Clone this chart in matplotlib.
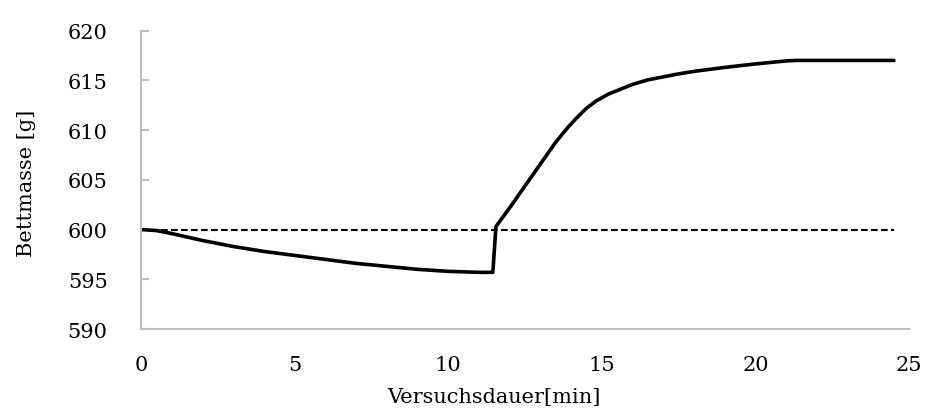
import matplotlib
matplotlib.use("Agg")
import matplotlib.pyplot as plt

# Data
time_min = [0, 0.5, 1, 2, 3, 4, 5, 6, 7, 8, 9, 10, 11, 11.45,
            11.55, 12, 12.5, 13, 13.5, 13.9, 14.2, 14.5, 14.8, 15.2, 15.6, 16, 16.5,
            17, 17.5, 18, 19, 20, 21, 21.3, 22, 23, 24, 24.5]
bed_mass = [600.0, 599.9, 599.6, 598.9, 598.3, 597.8, 597.4, 597.0, 596.6, 596.3, 596.0, 595.8, 595.7, 595.7,
            600.3, 602.2, 604.4, 606.6, 608.8, 610.3, 611.3, 612.2, 612.9, 613.6, 614.1, 614.6, 615.05,
            615.35, 615.65, 615.9, 616.3, 616.65, 616.95, 617.0, 617.0, 617.0, 617.0, 617.0]
ref_time = [0, 24.5]
ref_mass = [600, 600]

x_ticks = [0, 5, 10, 15, 20, 25]
y_ticks = [590, 595, 600, 605, 610, 615, 620]
x_label = "Versuchsdauer[min]"
y_label = "Bettmasse [g]"

plt.rcParams['font.family'] = ['DejaVu Serif']

fig = plt.figure(figsize=(9.25, 4.1), dpi=100)
ax = fig.add_axes([0.1524, 0.195, 0.8306, 0.728])

ax.plot(ref_time, ref_mass, color='black', lw=1.5, dashes=(3.2, 1.6))
ax.plot(time_min, bed_mass, color='black', lw=2.6, solid_joinstyle='round',
        solid_capstyle='round')

ax.set_xlim(0, 25)
ax.set_ylim(590, 620)
ax.set_xticks(x_ticks)
ax.set_yticks(y_ticks)

for s in ['top', 'right']:
    ax.spines[s].set_visible(False)
for s in ['left', 'bottom']:
    ax.spines[s].set_color('#BFBFBF')
    ax.spines[s].set_linewidth(1.5)

fs = 15
ax.tick_params(axis='y', direction='in', length=5.5, width=1.5, color='#BFBFBF',
               pad=24, labelsize=fs)
ax.tick_params(axis='x', length=0, pad=19, labelsize=fs)

ax.set_xlabel(x_label, fontsize=fs)
ax.xaxis.label.set_va('center')
ax.xaxis.set_label_coords(0.46, -0.226)
ax.set_ylabel(y_label, fontsize=fs)
ax.yaxis.label.set_va('center')
ax.yaxis.set_label_coords(-0.149, 0.49)

fig.savefig("out.png", dpi=100)
